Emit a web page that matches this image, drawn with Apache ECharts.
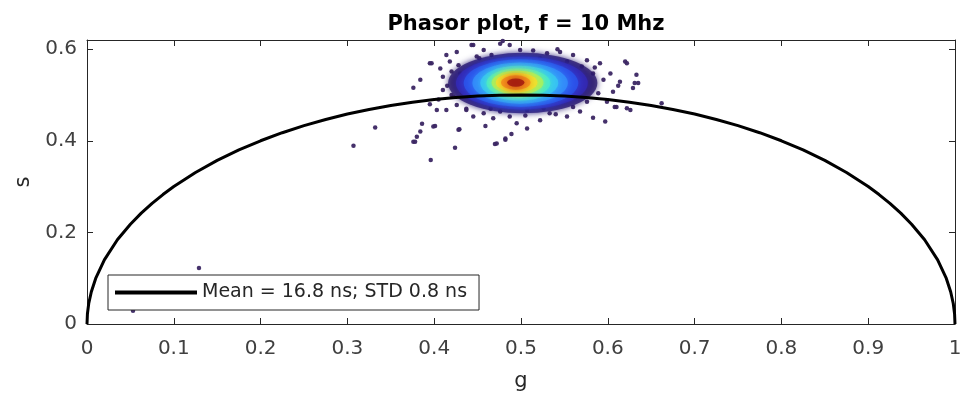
<!DOCTYPE html>
<html>
<head>
<meta charset="utf-8">
<script src="https://cdn.jsdelivr.net/npm/echarts@6/dist/echarts.min.js"></script>
<style>
  html, body { margin: 0; padding: 0; background: #fff; }
  #chart { width: 960px; height: 399px; }
</style>
</head>
<body>
<div id="chart"></div>
<script>
// universal semicircle, read point by point
const circleG = [0, 0.0005, 0.002, 0.005, 0.01, 0.02, 0.035, 0.05, 0.0625, 0.075, 0.0875, 0.1, 0.125, 0.15, 0.175, 0.2, 0.225, 0.25, 0.275, 0.3, 0.325, 0.35, 0.375, 0.4, 0.425, 0.45, 0.475, 0.5,
  0.525, 0.55, 0.575, 0.6, 0.625, 0.65, 0.675, 0.7, 0.725, 0.75, 0.775, 0.8, 0.825, 0.85, 0.875, 0.9, 0.9125, 0.925, 0.9375, 0.95, 0.965, 0.98, 0.99, 0.995, 0.998, 0.9995, 1];
const circleS = [0, 0.0224, 0.0447, 0.0705, 0.0995, 0.14, 0.1838, 0.2179, 0.2421, 0.2634, 0.2826, 0.3, 0.3307, 0.3571, 0.38, 0.4, 0.4176, 0.433, 0.4465, 0.4583, 0.4684, 0.477, 0.4841, 0.4899, 0.4943, 0.4975, 0.4994, 0.5,
  0.4994, 0.4975, 0.4943, 0.4899, 0.4841, 0.477, 0.4684, 0.4583, 0.4465, 0.433, 0.4176, 0.4, 0.38, 0.3571, 0.3307, 0.3, 0.2826, 0.2634, 0.2421, 0.2179, 0.1838, 0.14, 0.0995, 0.0705, 0.0447, 0.0224, 0];

// sparse pixels around the cloud (g, s)
const pointsG = [0.129, 0.053, 0.307, 0.332, 0.396, 0.424, 0.376, 0.380, 0.384, 0.386, 0.401, 0.429, 0.459, 0.470, 0.482, 0.489, 0.507, 0.597, 0.583, 0.662, 0.622, 0.608,
  0.479, 0.445, 0.376, 0.384, 0.395, 0.631, 0.629, 0.620, 0.633, 0.397, 0.407, 0.414, 0.418, 0.426, 0.443, 0.457, 0.476, 0.487, 0.499, 0.514, 0.530, 0.545, 0.560,
  0.576, 0.591, 0.603, 0.614, 0.622, 0.635, 0.606, 0.599, 0.626, 0.610, 0.568, 0.553, 0.533, 0.522, 0.495, 0.487, 0.476, 0.468, 0.457, 0.445, 0.437, 0.426, 0.414,
  0.403, 0.399, 0.378, 0.428, 0.472, 0.482, 0.457, 0.422, 0.410, 0.410, 0.430, 0.420, 0.449, 0.466, 0.522, 0.553, 0.570, 0.583, 0.595, 0.589, 0.576, 0.560, 0.507,
  0.514, 0.499, 0.526, 0.395, 0.405, 0.415, 0.420, 0.432, 0.428, 0.540, 0.465, 0.585, 0.612, 0.437, 0.452, 0.505, 0.542];
const pointsS = [0.122, 0.029, 0.389, 0.429, 0.358, 0.385, 0.398, 0.409, 0.420, 0.437, 0.432, 0.425, 0.432, 0.393, 0.402, 0.415, 0.427, 0.442, 0.450, 0.482, 0.471, 0.474,
  0.618, 0.609, 0.516, 0.533, 0.569, 0.526, 0.515, 0.573, 0.544, 0.569, 0.558, 0.587, 0.573, 0.594, 0.609, 0.598, 0.612, 0.609, 0.598, 0.597, 0.591, 0.594, 0.587,
  0.576, 0.569, 0.547, 0.529, 0.569, 0.526, 0.507, 0.485, 0.467, 0.474, 0.464, 0.453, 0.460, 0.445, 0.438, 0.453, 0.464, 0.449, 0.460, 0.453, 0.467, 0.478, 0.467,
  0.467, 0.431, 0.398, 0.424, 0.394, 0.405, 0.485, 0.496, 0.511, 0.540, 0.547, 0.551, 0.584, 0.587, 0.580, 0.573, 0.562, 0.547, 0.533, 0.504, 0.485, 0.474, 0.467,
  0.474, 0.478, 0.471, 0.480, 0.490, 0.520, 0.500, 0.505, 0.565, 0.458, 0.470, 0.560, 0.520, 0.470, 0.580, 0.455, 0.600];

// density contours of the cloud, outermost first: centre and half widths in g and s
const levelCentreG = [0.502, 0.501, 0.500, 0.499, 0.498, 0.497, 0.496, 0.495, 0.494, 0.494];
const levelCentreS = [0.526, 0.526, 0.526, 0.526, 0.526, 0.526, 0.527, 0.527, 0.527, 0.527];
const levelHalfG = [0.086, 0.076, 0.066, 0.055, 0.045, 0.037, 0.030, 0.024, 0.017, 0.010];
const levelHalfS = [0.066, 0.058, 0.052, 0.045, 0.038, 0.032, 0.026, 0.021, 0.016, 0.009];

const xTicks = [0, 0.1, 0.2, 0.3, 0.4, 0.5, 0.6, 0.7, 0.8, 0.9, 1];
const yTicks = [0, 0.2, 0.4, 0.6];
const legendLabel = 'Mean = 16.8 ns; STD 0.8 ns';

const levelColors = ['#2a1a6e', '#3429b8', '#2c55ee', '#3590fb', '#38c8f2', '#45eccd', '#a8f25c', '#f6e22a', '#f88a1c', '#d8281a'];
const coreColor = '#9c120e';

const gridBox = { left: 87, right: 5, top: 40, bottom: 75, outerBoundsMode: 'none', containLabel: false };
const yMax = 0.62;
const pxPerG = 960 - gridBox.left - gridBox.right;
const pxPerS = (399 - gridBox.top - gridBox.bottom) / yMax;

const font = '"DejaVu Sans", Arial, sans-serif';
const axisColor = '#262626';

const chart = echarts.init(document.getElementById('chart'));

const levelData = levelCentreG.map((g, i) => {
  const c = i === levelCentreG.length - 1 ? coreColor : levelColors[i];
  return {
    value: [g, levelCentreS[i], levelHalfG[i], levelHalfS[i]],
    itemStyle: { color: c, shadowColor: c, shadowBlur: i < 2 ? 6 : 9 }
  };
});

const xBase = {
  type: 'value', min: 0, max: 1, interval: 0.1,
  axisLine: { show: true, onZero: false, lineStyle: { color: axisColor, width: 1 } },
  axisTick: { show: true, inside: true, length: 6, customValues: xTicks, lineStyle: { color: axisColor } },
  splitLine: { show: false }
};
const yBase = {
  type: 'value', min: 0, max: yMax, interval: 0.2,
  axisLine: { show: true, onZero: false, lineStyle: { color: axisColor, width: 1 } },
  axisTick: { show: true, inside: true, length: 6, customValues: yTicks, lineStyle: { color: axisColor } },
  splitLine: { show: false }
};

chart.setOption({
  animation: false,
  backgroundColor: '#fff',
  title: {
    text: 'Phasor plot, f = 10 Mhz',
    left: 521, top: 9, textAlign: 'center',
    textStyle: { fontFamily: font, fontSize: 21, fontWeight: 'bold', color: '#000' }
  },
  grid: gridBox,
  legend: {
    data: [{ name: legendLabel, icon: 'rect', itemStyle: { color: '#000' } }],
    left: 108, top: 275,
    padding: [8, 12, 8, 7],
    itemWidth: 82, itemHeight: 4, itemGap: 0,
    backgroundColor: '#fff',
    borderColor: axisColor, borderWidth: 1,
    textStyle: { fontFamily: font, fontSize: 19, color: axisColor }
  },
  xAxis: [
    Object.assign({}, xBase, {
      position: 'bottom',
      name: 'g', nameLocation: 'middle', nameGap: 47,
      nameTextStyle: { fontFamily: font, fontSize: 21, color: axisColor },
      axisLabel: { customValues: xTicks, fontFamily: font, fontSize: 20, color: '#404040', margin: 15 }
    }),
    Object.assign({}, xBase, { position: 'top', axisLabel: { show: false } })
  ],
  yAxis: [
    Object.assign({}, yBase, {
      position: 'left',
      name: 's', nameLocation: 'middle', nameGap: 50,
      nameTextStyle: { fontFamily: font, fontSize: 21, color: axisColor },
      axisLabel: { customValues: yTicks, fontFamily: font, fontSize: 20, color: '#404040', margin: 10 }
    }),
    Object.assign({}, yBase, { position: 'right', axisLabel: { show: false } })
  ],
  series: [
    {
      name: 'points',
      type: 'scatter',
      data: pointsG.map((g, i) => [g, pointsS[i]]),
      symbolSize: 4.5,
      itemStyle: { color: '#3b2663', opacity: 0.95 },
      z: 2
    },
    {
      name: 'density',
      type: 'scatter',
      data: levelData,
      symbol: 'circle',
      symbolSize: v => [2 * v[2] * pxPerG, 2 * v[3] * pxPerS],
      z: 3
    },
    {
      name: legendLabel,
      type: 'line',
      data: circleG.map((g, i) => [g, circleS[i]]),
      symbol: 'none',
      itemStyle: { color: '#000' },
      lineStyle: { color: '#000', width: 3 },
      z: 4
    }
  ]
});
</script>
</body>
</html>
